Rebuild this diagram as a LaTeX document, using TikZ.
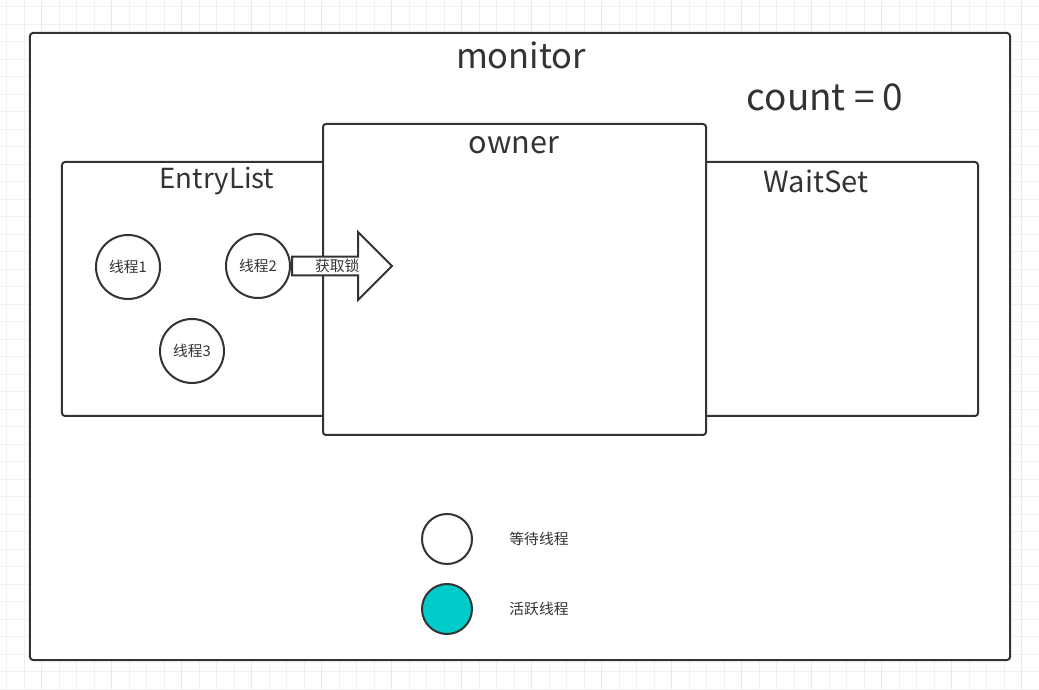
\documentclass[tikz,border=0pt]{standalone}
\usepackage{fontspec}
\setmainfont{Noto Sans CJK SC}
\usetikzlibrary{shapes.arrows}
\definecolor{ink}{HTML}{333333}
\definecolor{gridgray}{HTML}{F0F0F0}
\definecolor{activecyan}{HTML}{00CCCC}

\begin{document}
\begin{tikzpicture}[
    x=0.2mm, y=-0.2mm,
    box/.style={rectangle, draw=ink, line width=0.4mm, rounded corners=0.6mm, fill=white, inner sep=0pt},
    threadnode/.style={circle, draw=ink, line width=0.4mm, fill=white, minimum size=12.8mm, inner sep=0pt, text=ink, font=\fontsize{8.4}{10}\selectfont},
    legendnode/.style={circle, draw=ink, line width=0.4mm, minimum size=10mm, inner sep=0pt},
    title/.style={text=ink, inner sep=0pt},
    small/.style={text=ink, inner sep=0pt, font=\fontsize{8.4}{10}\selectfont}
    ]
    \useasboundingbox (0,0) rectangle (1039,690);
    \fill[white] (0,0) rectangle (1039,690);
    \foreach \i in {0,...,59}
        \draw[gridgray, line width=0.2mm] (6.7+17.5*\i,0) -- (6.7+17.5*\i,690);
    \foreach \j in {0,...,39}
        \draw[gridgray, line width=0.2mm] (0,7+17.5*\j) -- (1039,7+17.5*\j);
    \foreach \i in {2,6,...,58}
        \draw[gridgray!80!gray!60, line width=0.3mm] (6.7+17.5*\i,0) -- (6.7+17.5*\i,690);

    \node [box, minimum width=196mm, minimum height=125.4mm] (monitor) at (520,346.5) {};
    \node [title, font=\fontsize{19.6}{24}\selectfont] (monitorlabel) at (521,55) {monitor};
    \node [title, font=\fontsize{21}{25}\selectfont] (count) at (825,97) {count = 0};

    \node [box, minimum width=183.2mm, minimum height=50.8mm] (lists) at (520,289) {};
    \node [title, font=\fontsize{15.7}{19}\selectfont] (entrylabel) at (217,181) {EntryList};
    \node [title, font=\fontsize{16.6}{20}\selectfont] (waitlabel) at (816,181) {WaitSet};

    \node [box, minimum width=76.6mm, minimum height=62.2mm] (owner) at (514.5,279.5) {};
    \node [title, font=\fontsize{17.4}{21}\selectfont] (ownerlabel) at (514,145) {owner};

    \node [threadnode] (t1) at (128,267) {线程1};
    \node [threadnode] (t2) at (258,266) {线程2};
    \node [threadnode] (t3) at (192,351) {线程3};

    \node [single arrow, draw=ink, line width=0.4mm, fill=white, anchor=tail,
           minimum height=20mm, minimum width=13.6mm, single arrow head extend=4.6mm,
           inner xsep=0pt, inner ysep=0.5pt, text=ink, font=\fontsize{8.4}{10}\selectfont] (lock) at (t2.east) {获取锁};

    \node [legendnode, fill=white] (waiting) at (447,539) {};
    \node [small] (waitingtext) at (539,539) {等待线程};
    \node [legendnode, fill=activecyan] (active) at (447,609) {};
    \node [small] (activetext) at (539,609) {活跃线程};
\end{tikzpicture}
\end{document}
